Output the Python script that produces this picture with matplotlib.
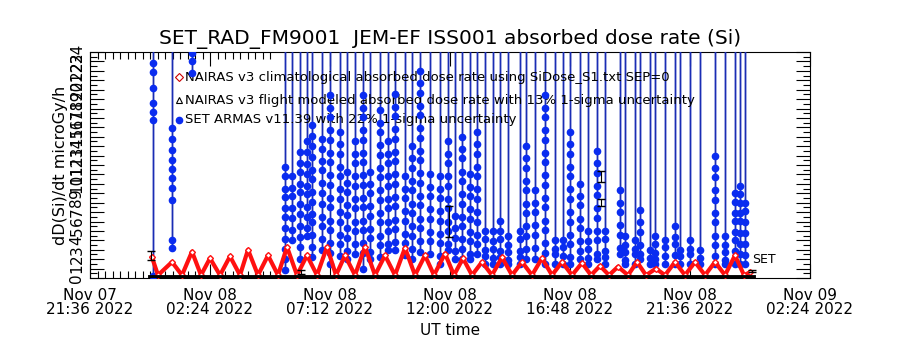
import matplotlib
matplotlib.use("Agg")
import matplotlib.pyplot as plt

# time axis: hours after Nov 07 21:36 UT
tick_hours = [0.0, 4.8, 9.6, 14.4, 19.2, 24.0, 28.8]
tick_labels = ["Nov 07\n21:36 2022", "Nov 08\n02:24 2022", "Nov 08\n07:12 2022",
               "Nov 08\n12:00 2022", "Nov 08\n16:48 2022", "Nov 08\n21:36 2022",
               "Nov 09\n02:24 2022"]

# NAIRAS v3 climatological dose rate (peaks / troughs)
nairas_hours = [2.48, 2.72, 3.28, 3.68, 4.08, 4.44, 4.80, 5.20, 5.60, 6.00, 6.32, 6.72,
                7.12, 7.52, 7.88, 8.28, 8.68, 9.08, 9.48, 9.84, 10.20, 10.60, 11.00,
                11.40, 11.80, 12.20, 12.60, 13.00, 13.40, 13.76, 14.20, 14.56, 14.92,
                15.28, 15.68, 16.08, 16.48, 16.88, 17.28, 17.68, 18.08, 18.48, 18.88,
                19.28, 19.68, 20.04, 20.40, 20.76, 21.12, 21.52, 21.88, 22.24, 22.64,
                23.00, 23.40, 23.80, 24.20, 24.60, 25.00, 25.40, 25.80, 26.16, 26.40]
nairas_dose = [2.2, 0.3, 1.7, 0.3, 2.8, 0.3, 2.1, 0.3, 2.3, 0.3, 3.0, 0.3,
               2.4, 0.3, 3.3, 0.3, 2.4, 0.3, 3.3, 0.3, 2.4, 0.3, 3.3,
               0.3, 2.4, 0.3, 3.2, 0.3, 2.4, 0.3, 2.6, 0.3, 2.1,
               0.3, 1.7, 0.3, 2.2, 0.3, 1.7, 0.3, 2.1, 0.3, 1.7,
               0.3, 1.6, 0.3, 1.3, 0.3, 1.2, 0.3, 1.7, 0.3, 1.0,
               0.3, 1.7, 0.3, 1.7, 0.3, 1.7, 0.3, 2.4, 0.3, 0.6]

# NAIRAS v3 flight modeled dose rate (near zero along the flight)
flight_hours = [2.4, 5.0, 8.4, 12.0, 16.0, 20.0, 24.0, 26.5]
flight_dose = [0.15, 0.15, 0.15, 0.15, 0.15, 0.15, 0.15, 0.15]

# error bars drawn on selected points
err_hours = [2.44, 8.44, 14.36, 20.44, 20.44, 26.48]
err_dose = [2.4, 0.6, 6.0, 8.0, 10.8, 0.7]
err_size = [0.5, 0.2, 1.6, 0.4, 0.6, 0.1]

# SET ARMAS passes: time of the pass and the dose values of its points
set_col_hours = [2.52, 3.28, 4.08, 7.80, 8.08, 8.40, 8.68, 8.88, 9.28, 9.60, 10.00,
                 10.28, 10.60, 10.92, 11.20, 11.60, 11.92, 12.20, 12.60, 12.88, 13.20,
                 13.60, 14.00, 14.32, 14.60, 14.88, 15.20, 15.48, 15.80, 16.12, 16.40,
                 16.72, 17.20, 17.44, 17.80, 18.20, 18.60, 18.92, 19.20, 19.60, 19.92,
                 20.28, 20.60, 21.20, 21.40, 21.80, 22.00, 22.40, 22.60, 23.00, 23.40,
                 23.60, 24.00, 24.40, 25.00, 25.40, 25.80, 26.00, 26.20]
set_col_dose = [
    [22.8, 21.9, 20.2, 18.6, 17.6, 16.8, 0.2],
    [15.9, 14.8, 13.6, 12.5, 11.6, 10.6, 9.6, 8.3, 4.0, 3.2],
    [23.9, 23.0, 21.8],
    [11.8, 10.8, 9.5, 8.6, 7.4, 6.5, 5.3, 4.1, 3.1, 2.0, 0.9],
    [10.8, 9.6, 8.7, 7.4, 6.4, 5.1, 4.0],
    [13.4, 12.2, 11.3, 10.0, 9.1, 7.9, 6.8, 5.5, 4.4, 3.3, 2.0],
    [14.5, 13.4, 12.1, 11.0, 9.8, 8.9, 7.5, 6.5, 5.3, 4.5],
    [16.3, 15.1, 14.0, 12.9, 11.5, 10.5, 9.1, 8.1, 6.8, 5.9, 4.6, 3.3, 2.2],
    [14.8, 13.7, 12.4, 11.5, 10.1, 9.0, 7.9, 6.5, 5.5, 4.1, 3.0],
    [19.4, 18.1, 17.1, 15.7, 14.7, 13.3, 12.3, 10.9, 9.9, 8.5, 7.5, 6.1, 5.1, 3.7, 2.7, 1.5],
    [15.5, 14.2, 13.2, 11.8, 10.8, 9.4, 8.4, 7.0, 6.0, 4.6, 3.6, 2.3],
    [11.3, 10.1, 9.1, 7.7, 6.7, 5.3, 4.3, 2.9, 2.0],
    [14.5, 13.2, 12.2, 10.8, 9.8, 8.4, 7.4, 6.0, 5.0, 3.6, 2.5],
    [19.4, 18.1, 17.1, 15.7, 14.7, 13.3, 12.3, 10.9, 9.9, 8.5, 7.5, 6.1, 5.1, 3.7, 2.7, 1.0],
    [11.3, 10.0, 9.0, 7.6, 6.6, 5.2, 4.2, 2.8, 2.0],
    [17.8, 16.5, 15.5, 14.1, 13.1, 11.7, 10.7, 9.3, 8.3, 6.9, 5.9, 4.5, 3.5, 2.2],
    [14.5, 13.2, 12.2, 10.8, 9.8, 8.4, 7.4, 6.0, 5.0, 3.6, 3.0],
    [19.5, 18.2, 17.2, 15.8, 14.8, 13.4, 12.4, 11.0, 10.0, 8.6, 7.6, 6.2, 5.2, 3.8, 3.0],
    [10.8, 9.5, 8.5, 7.1, 6.1, 4.7, 3.7, 2.4],
    [14.0, 12.7, 11.7, 10.3, 9.3, 7.9, 6.9, 5.5, 4.5, 3.1, 2.0],
    [22.0, 20.7, 19.7, 18.3, 17.3, 15.9, 14.9, 13.5, 12.5, 11.1, 10.1, 8.7, 7.7, 6.3, 5.3, 3.9, 2.8],
    [11.0, 9.7, 8.7, 7.3, 6.3, 4.9, 3.9, 2.6],
    [10.8, 9.5, 8.5, 7.1, 6.1, 4.7, 3.7, 2.3, 1.5],
    [14.5, 13.2, 12.2, 10.8, 9.8, 8.4, 7.4, 6.0, 5.0, 3.6, 3.0],
    [6.6, 5.3, 4.3, 2.9, 2.0],
    [15.0, 13.7, 12.7, 11.3, 10.3, 8.9, 7.9, 6.5, 5.5, 4.1, 3.1, 2.0],
    [11.0, 9.7, 8.7, 7.3, 6.3, 4.9, 3.9, 2.5, 2.0],
    [15.5, 14.2, 13.2, 11.8, 10.8, 9.4, 8.4, 7.0, 6.0, 4.6, 3.6, 2.5],
    [5.0, 4.1, 3.0, 2.3, 1.5],
    [5.0, 3.9, 3.1, 2.1, 1.5],
    [6.1, 5.0, 4.1, 2.9, 2.2, 1.5],
    [4.5, 3.5, 2.8, 1.9, 1.5],
    [5.0, 4.1, 2.9, 2.2, 1.5],
    [14.0, 12.7, 11.7, 10.3, 9.3, 7.9, 6.9, 5.5, 4.5, 3.1, 2.0],
    [9.3, 8.0, 7.0, 5.6, 4.6, 3.2, 2.0],
    [19.4, 18.1, 17.1, 15.7, 14.7, 13.3, 12.3, 10.9, 9.9, 8.5, 7.5, 6.1, 5.1, 3.7, 2.7, 1.5],
    [4.0, 3.1, 2.5, 1.5],
    [4.0, 3.3, 2.3, 1.5],
    [15.5, 14.2, 13.2, 11.8, 10.8, 9.4, 8.4, 7.0, 6.0, 4.6, 3.6, 2.2, 1.5],
    [10.0, 8.7, 7.7, 6.3, 5.3, 3.9, 2.9, 2.0],
    [5.0, 3.9, 3.1, 2.1, 1.5],
    [13.5, 12.2, 11.2, 9.8, 8.8, 7.4, 6.4, 5.0, 4.0, 2.6, 2.0],
    [5.0, 4.1, 2.9, 2.2, 1.5],
    [9.3, 8.0, 7.0, 5.6, 4.6, 3.2, 2.5],
    [4.5, 3.5, 2.8, 1.9, 1.5],
    [4.0, 3.1, 2.5, 1.5],
    [7.2, 5.9, 4.9, 3.5, 2.6, 2.0],
    [3.0, 2.1, 1.5],
    [4.5, 3.6, 2.7, 2.0, 1.5],
    [4.0, 3.3, 2.3, 1.5],
    [5.5, 4.4, 3.6, 2.4, 1.5],
    [3.0, 2.3, 1.5],
    [4.0, 3.1, 2.5, 1.5],
    [3.0, 2.1, 1.5],
    [13.0, 11.7, 10.7, 9.3, 8.3, 6.9, 5.9, 4.5, 3.5, 2.3, 1.5],
    [4.5, 3.5, 2.8, 1.9, 1.5],
    [9.0, 8.1, 6.9, 6.1, 4.9, 4.0, 2.9, 1.5],
    [9.8, 8.9, 8.0, 6.9, 6.1, 4.8, 3.6, 2.5, 1.5],
    [8.0, 7.1, 5.9, 4.8, 3.6, 2.4, 1.5],
]
off_scale = 40.0  # between passes the rate runs above the plot top

set_hours = []
set_dose = []
for h, vals in zip(set_col_hours, set_col_dose):
    set_hours += [h] * (len(vals) + 2)
    set_dose += [off_scale] + vals + [off_scale]

plt.rcParams['font.family'] = ['DejaVu Sans']
fig = plt.figure(figsize=(9, 3.5), dpi=100)
ax = fig.add_axes([0.1, 0.2057, 0.8, 0.6457])

blue_line = '#1a2db4'
blue_dot = '#0a2cf0'
ax.plot(set_hours, set_dose, '-', color=blue_line, lw=1.0, zorder=3)
ax.plot(set_hours, set_dose, 'o', color=blue_dot, ms=4.5, mec=blue_dot, zorder=4)

ax.plot(nairas_hours, nairas_dose, '-', color='#ff1010', lw=3.0, zorder=5)
ax.plot(nairas_hours, nairas_dose, 'D', mfc='white', mec='#ff1010', ms=3, mew=1,
        zorder=6)

ax.plot(flight_hours, flight_dose, '-', color='black', lw=3.5, zorder=7)
ax.errorbar(err_hours, err_dose, yerr=err_size, fmt='none', ecolor='black',
            elinewidth=0.8, capsize=3, zorder=8)
ax.text(26.5, 1.6, "SET", fontsize=9, color='black')

# legend drawn as IDL-like lines of text with symbols
leg_x = 3.55
ax.plot([leg_x], [21.3], 'D', mfc='white', mec='#cc0000', ms=4, mew=0.8)
ax.text(leg_x + 0.25, 21.3, "NAIRAS v3 climatological absorbed dose rate using SiDose_S1.txt SEP=0",
        fontsize=9.5, va='center')
ax.plot([leg_x], [18.9], '^', mfc='white', mec='black', ms=4.5, mew=0.8)
ax.text(leg_x + 0.25, 18.9, "NAIRAS v3 flight modeled absorbed dose rate with 13% 1-sigma uncertainty",
        fontsize=9.5, va='center')
ax.plot([leg_x], [16.8], 'o', color=blue_dot, ms=4.5)
ax.text(leg_x + 0.25, 16.8, "SET ARMAS v11.39 with 22% 1-sigma uncertainty",
        fontsize=9.5, va='center')

ax.set_xlim(0, 28.8)
ax.set_ylim(0, 24)
ax.set_xticks(tick_hours)
ax.set_xticklabels(tick_labels, fontsize=11, linespacing=0.95)
ax.set_xticks([h / 4 * 1.2 for h in range(0, 25)], minor=True)
ax.set_yticks(range(0, 25))
ax.set_yticklabels([str(v) for v in range(0, 25)], rotation=90, fontsize=11,
                   va='center')
ax.set_yticks([v + 0.5 for v in range(0, 24)], minor=True)
ax.tick_params(axis='both', which='major', direction='in', length=10, width=0.8,
               top=True, right=True, pad=7)
ax.tick_params(axis='both', which='minor', direction='in', length=5, width=0.8,
               top=True, right=True)
ax.tick_params(axis='y', which='major', pad=4)
for s in ax.spines.values():
    s.set_linewidth(0.8)

ax.set_xlabel("UT time", fontsize=11, labelpad=4)
ax.set_ylabel("dD(Si)/dt microGy/h", fontsize=11.5, labelpad=1)
ax.set_title("SET_RAD_FM9001  JEM-EF ISS001 absorbed dose rate (Si)", fontsize=14.5,
             pad=6)

fig.savefig("out.png", dpi=100)
